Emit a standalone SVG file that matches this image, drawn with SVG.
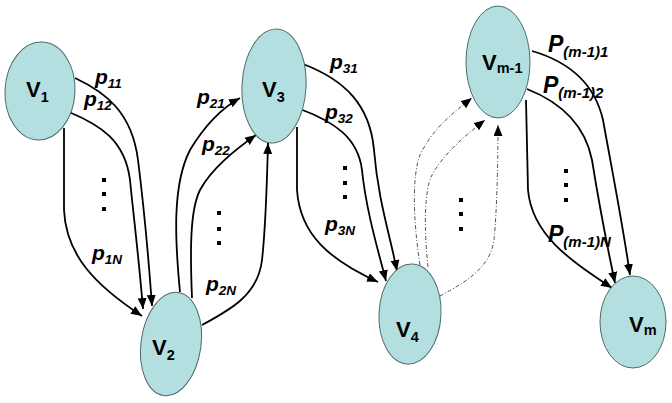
<svg xmlns="http://www.w3.org/2000/svg" width="672" height="403" viewBox="0 0 672 403">
<style>
.node{fill:#b3dfe1;stroke:#4d6b6b;stroke-width:1}
.nl{font-family:"Liberation Sans",Arial,sans-serif;font-weight:bold;font-size:22px;fill:#000}
.ns{font-size:14.5px}
.el{font-family:"Liberation Sans",Arial,sans-serif;font-weight:bold;font-style:italic;font-size:21px;fill:#000}
.es{font-size:13.5px}
.elP{font-family:"Liberation Sans",Arial,sans-serif;font-weight:bold;font-style:italic;font-size:23px;fill:#000}
.esP{font-size:15px}
.e{fill:none;stroke:#000;stroke-width:1.8;marker-end:url(#ah)}
.d{fill:none;stroke:#555;stroke-width:1;stroke-dasharray:4 2 1 2;marker-end:url(#ah)}
.dot{fill:#000}
</style>
<defs>
<marker id="ah" markerUnits="userSpaceOnUse" markerWidth="12" markerHeight="10" refX="11" refY="4.5" orient="auto">
<path d="M0,0 L11,4.5 L0,9 z" fill="#000"/>
</marker>
</defs>
<g id="connectors">
<path class="e" d="M75,78 C105,92 132,112 138,160 C143,200 148,250 152,306"/>
<path class="e" d="M69,112 C100,125 125,140 130,180 C134,220 139,260 143,309"/>
<path class="e" d="M64,128 L64,210 C66,255 95,285 142,316"/>
<path class="e" d="M180,292 C175,240 172,185 190,150 C205,125 222,108 240,98"/>
<path class="e" d="M192,298 C190,250 190,210 200,190 C212,168 235,150 256,135"/>
<path class="e" d="M202,325 C230,310 258,295 262,260 C266,225 267,180 268,143"/>
<path class="e" d="M303,64 C345,80 370,105 374,150 C378,200 390,235 397,271"/>
<path class="e" d="M300,109 C335,122 358,138 362,170 C366,210 378,250 386,281"/>
<path class="e" d="M297,127 L297,190 C300,235 330,260 378,282"/>
<path class="d" d="M420,265 C413,220 412,175 420,155 C432,130 450,115 472,98"/>
<path class="d" d="M428,267 C424,230 424,190 432,175 C443,155 462,138 485,120"/>
<path class="d" d="M440,296 C460,285 490,270 494,240 C497,210 498,160 498,125"/>
<path class="e" d="M532,51 C570,62 595,85 603,120 C612,170 622,220 630,275"/>
<path class="e" d="M527,89 C560,102 585,125 592,160 C600,210 608,250 615,283"/>
<path class="e" d="M526,100 L528,190 C532,235 570,260 612,288"/>
</g>
<g id="edge-labels">
<text class="el" x="95" y="84">p<tspan class="es" dy="4">11</tspan></text>
<text class="el" x="84" y="106">p<tspan class="es" dy="4">12</tspan></text>
<text class="el" x="92" y="260">p<tspan class="es" dy="4">1N</tspan></text>
<text class="el" x="197" y="104">p<tspan class="es" dy="4">21</tspan></text>
<text class="el" x="202" y="151">p<tspan class="es" dy="4">22</tspan></text>
<text class="el" x="206" y="291">p<tspan class="es" dy="4">2N</tspan></text>
<text class="el" x="330" y="69">p<tspan class="es" dy="4">31</tspan></text>
<text class="el" x="325" y="119">p<tspan class="es" dy="4">32</tspan></text>
<text class="el" x="325" y="231">p<tspan class="es" dy="4">3N</tspan></text>
<text class="elP" x="548" y="52">P<tspan class="esP" dy="5">(m-1)1</tspan></text>
<text class="elP" x="543" y="93">P<tspan class="esP" dy="5">(m-1)2</tspan></text>
<text class="elP" x="548" y="242">P<tspan class="esP" dy="5">(m-1)N</tspan></text>
</g>
<g id="ellipses">
<rect class="dot" x="102" y="178" width="4" height="4"/>
<rect class="dot" x="102" y="192" width="4" height="4"/>
<rect class="dot" x="102" y="207" width="4" height="4"/>
<rect class="dot" x="217" y="211" width="4" height="4"/>
<rect class="dot" x="217" y="227" width="4" height="4"/>
<rect class="dot" x="217" y="241" width="4" height="4"/>
<rect class="dot" x="343" y="166" width="4" height="4"/>
<rect class="dot" x="343" y="181" width="4" height="4"/>
<rect class="dot" x="343" y="195" width="4" height="4"/>
<rect class="dot" x="459" y="198" width="4" height="4"/>
<rect class="dot" x="459" y="212" width="4" height="4"/>
<rect class="dot" x="459" y="227" width="4" height="4"/>
<rect class="dot" x="564" y="169" width="4" height="4"/>
<rect class="dot" x="564" y="183" width="4" height="4"/>
<rect class="dot" x="564" y="198" width="4" height="4"/>
</g>
<g id="v1">
<ellipse class="node" cx="40" cy="91" rx="35" ry="49" transform="rotate(3 40 91)"/>
<text class="nl" x="26" y="97">V<tspan class="ns" dy="5">1</tspan></text>
</g>
<g id="v2">
<ellipse class="node" cx="171" cy="344" rx="30" ry="52" transform="rotate(8 171 344)"/>
<text class="nl" x="152" y="355">V<tspan class="ns" dy="5">2</tspan></text>
</g>
<g id="v3">
<ellipse class="node" cx="274" cy="86" rx="32" ry="57" transform="rotate(3 274 86)"/>
<text class="nl" x="262" y="97">V<tspan class="ns" dy="5">3</tspan></text>
</g>
<g id="v4">
<ellipse class="node" cx="410" cy="314" rx="31" ry="50" transform="rotate(3 410 314)"/>
<text class="nl" x="396" y="337">V<tspan class="ns" dy="5">4</tspan></text>
</g>
<g id="vm1">
<ellipse class="node" cx="498" cy="62" rx="32" ry="56"/>
<text class="nl" x="482" y="70">V<tspan class="ns" dy="3">m-1</tspan></text>
</g>
<g id="vm">
<ellipse class="node" cx="633" cy="322" rx="33" ry="46"/>
<text class="nl" x="629" y="332">V<tspan class="ns" dy="3">m</tspan></text>
</g>
</svg>
